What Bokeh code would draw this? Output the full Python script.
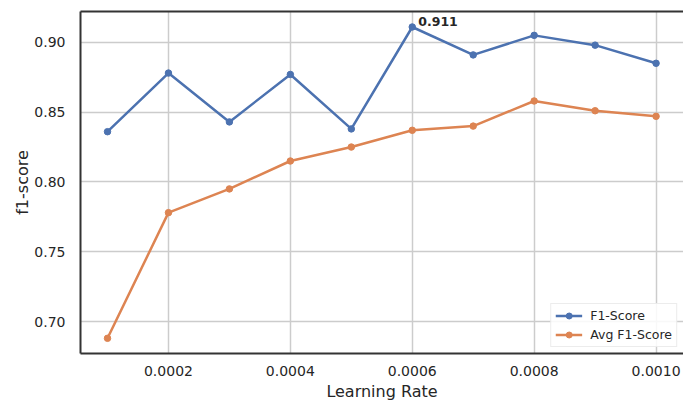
from bokeh.plotting import figure
from bokeh.models import (Range1d, FixedTicker, NumeralTickFormatter, Legend, LegendItem,
                          LinearAxis, ColumnDataSource, Title)
from bokeh.core.properties import value
from bokeh.embed import file_html
from bokeh.resources import INLINE

learning_rates = [0.0001, 0.0002, 0.0003, 0.0004, 0.0005, 0.0006, 0.0007, 0.0008, 0.0009, 0.0010]
f1_score = [0.836, 0.878, 0.843, 0.877, 0.838, 0.911, 0.891, 0.905, 0.898, 0.885]
avg_f1_score = [0.688, 0.778, 0.795, 0.815, 0.825, 0.837, 0.840, 0.858, 0.851, 0.847]
x_ticks = [0.0002, 0.0004, 0.0006, 0.0008, 0.0010]
y_ticks = [0.70, 0.75, 0.80, 0.85, 0.90]
best_label = "0.911"

FONT = "DejaVu Sans"
BLUE = "#4c72b0"
ORANGE = "#dd8452"
TXT = "#262626"

p = figure(width=683, height=403, output_backend="svg", toolbar_location=None,
           x_range=Range1d(0.0000557, 0.001045), y_range=Range1d(0.6771, 0.9221),
           min_border_left=80, min_border_right=0, min_border_top=11, min_border_bottom=49)

p.outline_line_color = None
p.background_fill_color = "white"
p.border_fill_color = "white"

for ax in (p.xaxis[0], p.yaxis[0]):
    ax.major_tick_in = 0
    ax.major_tick_out = 0
    ax.minor_tick_in = 0
    ax.minor_tick_out = 0
    ax.axis_line_color = "#333333"
    ax.axis_line_width = 2
    ax.major_label_text_font = FONT
    ax.major_label_text_font_size = "14px"
    ax.major_label_text_color = TXT
    ax.axis_label_text_font = FONT
    ax.axis_label_text_font_size = "16px"
    ax.axis_label_text_font_style = "normal"
    ax.axis_label_text_color = TXT

p.xaxis.ticker = FixedTicker(ticks=x_ticks)
p.yaxis.ticker = FixedTicker(ticks=y_ticks)
p.xaxis.formatter = NumeralTickFormatter(format="0.0000")
p.yaxis.formatter = NumeralTickFormatter(format="0.00")
p.xaxis.axis_label = "Learning Rate"
p.xaxis.major_label_standoff = 12
p.xaxis.axis_label_standoff = 3
p.yaxis.major_label_standoff = 15

ylabel = Title(text="f1-score", align="center", text_font=FONT, text_font_size="16px",
               text_font_style="normal", text_color=TXT, standoff=0, offset=0)
p.add_layout(ylabel, "left")

top_axis = LinearAxis(major_tick_in=0, major_tick_out=0, minor_tick_in=0, minor_tick_out=0,
                      major_label_text_font_size="0px", axis_line_color="#333333",
                      axis_line_width=2, ticker=FixedTicker(ticks=[]))
p.add_layout(top_axis, "above")

p.xgrid.grid_line_color = "#cccccc"
p.ygrid.grid_line_color = "#cccccc"
p.xgrid.grid_line_width = 1.5
p.ygrid.grid_line_width = 1.5

src = ColumnDataSource(dict(x=learning_rates, f1=f1_score, avg=avg_f1_score))
l1 = p.line("x", "f1", source=src, line_color=BLUE, line_width=2.5)
s1 = p.scatter("x", "f1", source=src, size=6.5, fill_color=BLUE, line_color=BLUE)
l2 = p.line("x", "avg", source=src, line_color=ORANGE, line_width=2.5)
s2 = p.scatter("x", "avg", source=src, size=6.5, fill_color=ORANGE, line_color=ORANGE)

best_i = f1_score.index(max(f1_score))
p.text(x=[learning_rates[best_i]], y=[f1_score[best_i]], text=[best_label],
       text_font=value(FONT), text_font_size="12.5px", text_font_style="bold",
       text_color=TXT, x_offset=6, y_offset=-1, text_baseline="bottom", text_align="left")

legend = Legend(items=[LegendItem(label="F1-Score", renderers=[l1, s1]),
                       LegendItem(label="Avg F1-Score", renderers=[l2, s2])],
                location="bottom_right")
legend.label_text_font = FONT
legend.label_text_font_size = "12.5px"
legend.label_text_color = TXT
legend.border_line_color = "#d9d9d9"
legend.background_fill_alpha = 0.85
legend.glyph_width = 27
legend.glyph_height = 15
legend.label_height = 15
legend.spacing = 4
legend.padding = 4
legend.margin = 6
legend.label_standoff = 8
p.add_layout(legend)

open("out.html", "w").write(file_html(p, INLINE))
